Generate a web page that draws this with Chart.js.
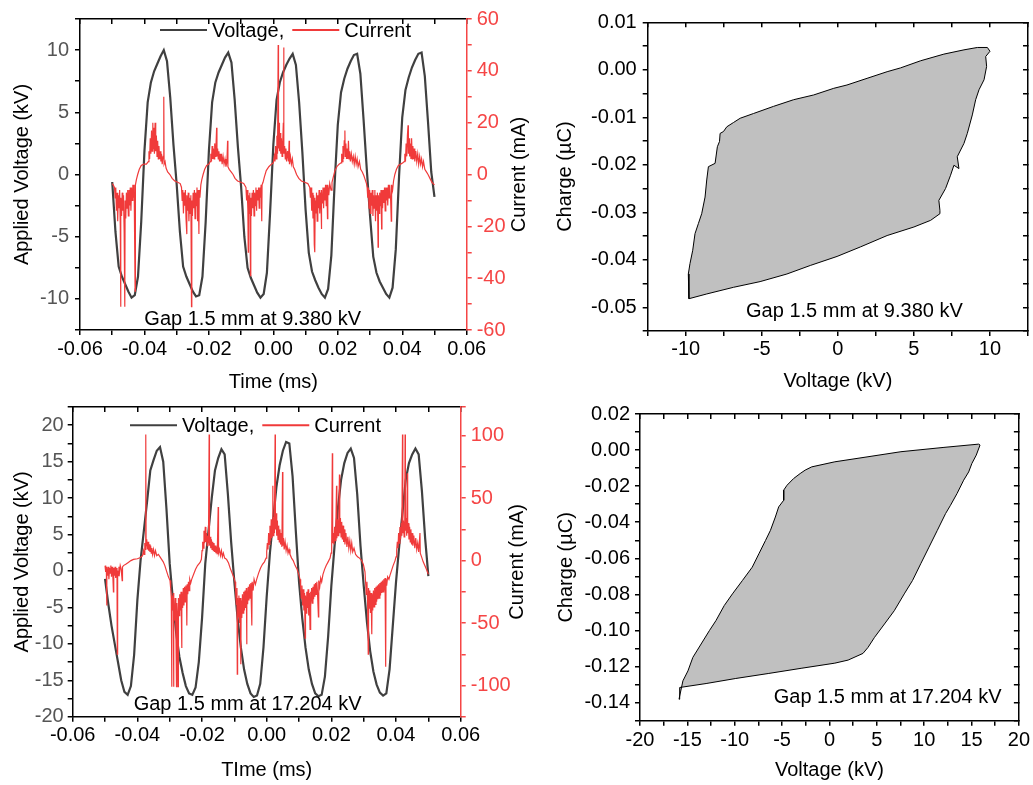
<!DOCTYPE html>
<html>
<head>
<meta charset="utf-8">
<script src="https://cdn.jsdelivr.net/npm/chart.js@4.4.1/dist/chart.umd.min.js"></script>
<style>
  body { margin: 0; background: #fff; }
  #wrap { position: relative; width: 1033px; height: 785px; }
  canvas { position: absolute; }
</style>
</head>
<body>
<div id="wrap">
  <canvas id="c1" width="540" height="396" style="left:0;top:0"></canvas>
  <canvas id="c2" width="493" height="396" style="left:540px;top:0"></canvas>
  <canvas id="c3" width="540" height="395" style="left:0;top:390px"></canvas>
  <canvas id="c4" width="493" height="395" style="left:540px;top:390px"></canvas>
</div>
<script>
// time base for the voltage traces (ms)
const timeMs = [
  -0.050,-0.049,-0.048,-0.047,-0.046,-0.045,-0.044,-0.043,-0.042,-0.041,
  -0.040,-0.039,-0.038,-0.037,-0.036,-0.035,-0.034,-0.033,-0.032,-0.031,
  -0.030,-0.029,-0.028,-0.027,-0.026,-0.025,-0.024,-0.023,-0.022,-0.021,
  -0.020,-0.019,-0.018,-0.017,-0.016,-0.015,-0.014,-0.013,-0.012,-0.011,
  -0.010,-0.009,-0.008,-0.007,-0.006,-0.005,-0.004,-0.003,-0.002,-0.001,
  0.000,0.001,0.002,0.003,0.004,0.005,0.006,0.007,0.008,0.009,
  0.010,0.011,0.012,0.013,0.014,0.015,0.016,0.017,0.018,0.019,
  0.020,0.021,0.022,0.023,0.024,0.025,0.026,0.027,0.028,0.029,
  0.030,0.031,0.032,0.033,0.034,0.035,0.036,0.037,0.038,0.039,
  0.040,0.041,0.042,0.043,0.044,0.045,0.046,0.047,0.048,0.049,
  0.050
];

// applied voltage (kV), gap 1.5 mm at 9.380 kV
const volt1 = [
  -0.6,-4.6,-7.4,-8.2,-8.8,-9.4,-9.9,-9.7,-8.2,-3.8,
  1.9,5.8,7.4,8.3,8.9,9.5,10.0,9.1,6.2,2.4,
  -0.8,-4.6,-7.4,-8.2,-8.8,-9.4,-9.8,-9.7,-8.2,-3.8,
  1.9,5.8,7.4,8.2,8.8,9.4,9.8,9.0,6.0,2.2,
  -1.0,-5.0,-7.5,-8.3,-8.9,-9.5,-9.9,-9.6,-7.9,-3.0,
  2.4,6.0,7.4,8.2,8.8,9.3,9.7,8.8,5.8,1.8,
  -2.8,-6.3,-7.8,-8.5,-9.1,-9.6,-9.9,-9.2,-6.5,-0.8,
  4.0,6.6,7.7,8.5,9.1,9.6,9.7,8.1,4.4,0.4,
  -3.3,-6.6,-7.9,-8.6,-9.1,-9.6,-9.9,-9.1,-6.0,-0.2,
  4.6,6.8,7.8,8.6,9.2,9.7,9.8,7.9,4.2,0.2,
  -1.8
];

// applied voltage (kV), gap 1.5 mm at 17.204 kV
const volt3 = [
  -1.1,-4.5,-7.5,-10.0,-12.5,-15.0,-16.6,-17.0,-15.8,-11.5,
  -4.0,1.5,5.5,9.5,13.8,15.2,16.5,17.0,15.0,8.5,
  1.0,-4.0,-8.5,-11.8,-14.0,-15.8,-16.8,-17.0,-16.0,-12.5,
  -6.5,1.0,5.5,10.0,13.8,15.5,16.7,16.0,10.5,4.0,
  -1.5,-6.5,-10.5,-13.5,-15.5,-16.8,-17.3,-17.1,-15.5,-10.5,
  -3.5,2.5,7.0,11.5,14.5,16.5,17.7,17.5,13.0,5.5,
  -1.5,-6.5,-10.5,-13.5,-15.5,-16.8,-17.2,-17.0,-14.5,-9.0,
  -2.0,3.5,8.5,12.5,14.8,16.2,16.8,15.5,10.5,3.5,
  -2.0,-7.0,-11.0,-13.8,-15.6,-16.7,-17.1,-16.8,-13.5,-7.5,
  -1.5,3.5,8.0,12.5,14.8,16.0,16.8,16.0,11.0,4.5,
  -0.7
];

// current (mA) as [time ms, value], 9.380 kV
const current1 = [
  [-0.0500,-3.5],[-0.0497,-4],[-0.0493,-5],[-0.0491,-9],[-0.0489,-5],[-0.0487,-14],[-0.0485,-7],[-0.0483,-18],[-0.0481,-8],[-0.0479,-13],
  [-0.0477,-6],[-0.0475,-20],[-0.0474,-51],[-0.0473,-9],[-0.0471,-16],[-0.0469,-7],[-0.0467,-14],[-0.0465,-8],[-0.0463,-22],[-0.0461,-51],
  [-0.0460,-10],[-0.0458,-17],[-0.0456,-7],[-0.0454,-13],[-0.0452,-6],[-0.0450,-16],[-0.0448,-6],[-0.0446,-12],[-0.0444,-5],[-0.0442,-14],
  [-0.0440,-5],[-0.0438,-10],[-0.0436,-4],[-0.0434,-9],[-0.0432,-4],[-0.0429,-45],[-0.0428,-4],[-0.0425,-2],[-0.0421,0],[-0.0416,2],
  [-0.0410,3.5],[-0.0402,4],[-0.0394,4],[-0.0388,5],[-0.0386,9],[-0.0384,6],[-0.0382,14],[-0.0380,8],[-0.0378,17],[-0.0376,9],
  [-0.0374,20],[-0.0373,10],[-0.0371,18],[-0.0369,8],[-0.0367,20],[-0.0365,9],[-0.0363,15],[-0.0361,7],[-0.0359,13],[-0.0357,6],
  [-0.0355,11],[-0.0353,6],[-0.0351,9],[-0.0349,5],[-0.0347,8],[-0.0345,4],[-0.0342,7],[-0.0340,30],[-0.0339,4],[-0.0336,5],
  [-0.0333,2.5],[-0.0328,1],[-0.0321,0],[-0.0314,-1.5],[-0.0306,-2.5],[-0.0297,-3],[-0.0289,-3.5],
  [-0.0285,-5],[-0.0283,-10],[-0.0281,-6],[-0.0279,-15],[-0.0277,-7],[-0.0275,-12],[-0.0273,-6],[-0.0271,-17],[-0.0269,-23],[-0.0268,-8],
  [-0.0266,-14],[-0.0264,-7],[-0.0262,-18],[-0.0260,-9],[-0.0258,-15],[-0.0256,-8],[-0.0254,-51],[-0.0253,-10],[-0.0251,-16],[-0.0249,-7],
  [-0.0247,-13],[-0.0245,-6],[-0.0243,-17],[-0.0241,-7],[-0.0239,-12],[-0.0237,-5],[-0.0235,-18],[-0.0233,-6],[-0.0231,-23],[-0.0230,-6],
  [-0.0228,-9],[-0.0225,-4],[-0.0222,-2],[-0.0218,0],[-0.0213,2],[-0.0207,3.5],[-0.0200,4],[-0.0196,5],[-0.0194,8],[-0.0192,5],
  [-0.0190,11],[-0.0188,6],[-0.0186,10],[-0.0184,6],[-0.0182,12],[-0.0180,7],[-0.0178,11],[-0.0176,18],[-0.0175,7],[-0.0173,10],
  [-0.0171,6],[-0.0169,9],[-0.0167,5],[-0.0165,8],[-0.0163,5],[-0.0161,8],[-0.0159,4],[-0.0156,7],[-0.0153,4],[-0.0150,6],
  [-0.0147,3],[-0.0144,5],[-0.0142,13],[-0.0141,3],[-0.0137,2],[-0.0131,1],[-0.0125,0],[-0.0119,-1.5],[-0.0111,-2.5],[-0.0101,-3],
  [-0.0092,-3.5],
  [-0.0085,-5],[-0.0083,-10],[-0.0081,-6],[-0.0079,-14],[-0.0078,-30],[-0.0077,-8],[-0.0075,-15],[-0.0073,-7],[-0.0071,-39],[-0.0070,-9],
  [-0.0068,-16],[-0.0066,-7],[-0.0064,-13],[-0.0062,-6],[-0.0060,-16],[-0.0058,-7],[-0.0056,-12],[-0.0054,-5],[-0.0052,-14],[-0.0050,-6],
  [-0.0048,-10],[-0.0046,-5],[-0.0044,-13],[-0.0042,-5],[-0.0040,-9],[-0.0038,-4],[-0.0036,-18],[-0.0035,-4],[-0.0032,-3],[-0.0028,-1],
  [-0.0022,1.5],[-0.0014,3],[-0.0006,4],[0.0000,4.5],[0.0003,7],[0.0005,5],[0.0007,11],[0.0009,6],[0.0011,15],[0.0013,8],
  [0.0015,50],[0.0016,10],[0.0018,20],[0.0019,9],[0.0021,16],[0.0023,8],[0.0025,14],[0.0027,7],[0.0029,12],[0.0031,20],
  [0.0032,49],[0.0033,8],[0.0035,11],[0.0037,6],[0.0039,10],[0.0041,5],[0.0044,9],[0.0047,5],[0.0049,13],[0.0050,4],
  [0.0053,7],[0.0056,4],[0.0059,6],[0.0062,3],[0.0066,2],[0.0072,0],[0.0079,-1.5],[0.0087,-2.5],[0.0097,-3],[0.0107,-3.5],
  [0.0113,-5],[0.0115,-9],[0.0117,-5],[0.0119,-14],[0.0121,-7],[0.0123,-17],[0.0125,-8],[0.0127,-27],[0.0128,-9],[0.0129,-30],
  [0.0130,-10],[0.0132,-15],[0.0134,-7],[0.0136,-18],[0.0138,-8],[0.0140,-13],[0.0142,-6],[0.0144,-15],[0.0146,-7],[0.0148,-12],
  [0.0149,-21],[0.0150,-6],[0.0152,-11],[0.0154,-5],[0.0156,-13],[0.0158,-5],[0.0160,-10],[0.0162,-4],[0.0164,-12],[0.0166,-4],
  [0.0168,-17],[0.0169,-4],[0.0172,-8],[0.0175,-3.5],[0.0179,-6],[0.0182,-3],[0.0186,-1],[0.0191,1.5],[0.0197,3],[0.0204,4],
  [0.0210,4.5],[0.0212,8],[0.0214,5],[0.0216,11],[0.0218,6],[0.0220,13],[0.0222,17],[0.0223,7],[0.0225,12],[0.0227,6],
  [0.0229,10],[0.0231,6],[0.0233,13],[0.0235,6],[0.0237,9],[0.0239,5],[0.0242,8],[0.0245,5],[0.0248,7],[0.0251,4],
  [0.0254,7],[0.0257,4],[0.0260,6],[0.0263,3],[0.0267,5],[0.0271,2],[0.0276,1],[0.0281,-0.5],[0.0285,-2],[0.0289,-3.5],
  [0.0291,-5],[0.0293,-9],[0.0295,-5],[0.0297,-13],[0.0299,-6],[0.0301,-15],[0.0303,-7],[0.0305,-12],[0.0307,-6],[0.0309,-16],
  [0.0311,-8],[0.0313,-13],[0.0315,-6],[0.0317,-18],[0.0319,-8],[0.0321,-14],[0.0323,-7],[0.0325,-28],[0.0326,-8],[0.0328,-15],
  [0.0330,-7],[0.0332,-12],[0.0334,-6],[0.0336,-21],[0.0337,-6],[0.0339,-13],[0.0341,-6],[0.0343,-11],[0.0345,-5],[0.0347,-14],
  [0.0349,-5],[0.0351,-10],[0.0353,-5],[0.0355,-12],[0.0357,-4],[0.0359,-9],[0.0361,-4],[0.0364,-10],[0.0366,-18],[0.0367,-4],
  [0.0370,-6],[0.0373,-2.5],[0.0377,0],[0.0382,2],[0.0388,3.5],[0.0395,4],[0.0402,4.5],[0.0406,5],[0.0408,8],[0.0410,5],
  [0.0412,12],[0.0414,7],[0.0416,15],[0.0418,19],[0.0419,8],[0.0421,14],[0.0423,7],[0.0425,12],[0.0427,6],[0.0429,14],
  [0.0431,6],[0.0433,11],[0.0435,6],[0.0437,10],[0.0439,5],[0.0442,9],[0.0445,5],[0.0448,8],[0.0451,4],[0.0454,7],
  [0.0457,4],[0.0460,6],[0.0463,3],[0.0466,5],[0.0470,2],[0.0475,1],[0.0480,0],[0.0486,-1.5],[0.0492,-3],[0.0500,-4]
];

// current (mA) as [time ms, value], 17.204 kV
const current3 = [
  [-0.0500,-4],[-0.0498,-9],[-0.0496,-5],[-0.0495,-36],[-0.0494,-6],[-0.0492,-12],[-0.0490,-5],[-0.0488,-15],[-0.0486,-6],[-0.0484,-10],
  [-0.0482,-4],[-0.0480,-13],[-0.0478,-5],[-0.0476,-11],[-0.0474,-25],[-0.0473,-6],[-0.0471,-12],[-0.0469,-5],[-0.0467,-14],[-0.0465,-6],
  [-0.0463,-10],[-0.0462,-75],[-0.0461,-8],[-0.0459,-12],[-0.0457,-5],[-0.0455,-9],[-0.0453,-4],[-0.0450,-7],[-0.0447,-16],[-0.0446,-5],
  [-0.0443,-4],[-0.0436,-3],[-0.0428,-1.5],[-0.0420,0],[-0.0412,1],[-0.0400,1.5],[-0.0390,2.5],[-0.0384,4],[-0.0381,8],[-0.0379,5],
  [-0.0377,14],[-0.0375,9],[-0.0374,101],[-0.0373,12],[-0.0371,17],[-0.0369,9],[-0.0367,15],[-0.0365,8],[-0.0363,13],[-0.0361,7],
  [-0.0359,12],[-0.0357,6],[-0.0355,10],[-0.0353,5],[-0.0350,9],[-0.0347,4],[-0.0344,8],[-0.0340,4],[-0.0335,5],[-0.0330,3],
  [-0.0325,1],[-0.0320,-1],[-0.0315,-4],[-0.0309,-9],[-0.0304,-13],[-0.0299,-16],
  [-0.0297,-22],[-0.0295,-30],[-0.0294,-101],[-0.0293,-28],[-0.0291,-40],[-0.0289,-26],[-0.0288,-101],[-0.0287,-35],[-0.0285,-48],[-0.0283,-30],
  [-0.0281,-52],[-0.0279,-101],[-0.0278,-34],[-0.0276,-45],[-0.0274,-101],[-0.0273,-30],[-0.0271,-44],[-0.0269,-27],[-0.0267,-40],[-0.0265,-25],
  [-0.0263,-70],[-0.0262,-26],[-0.0260,-38],[-0.0258,-22],[-0.0256,-36],[-0.0254,-21],[-0.0252,-33],[-0.0250,-20],[-0.0248,-30],[-0.0247,-52],
  [-0.0246,-19],[-0.0244,-27],[-0.0242,-17],[-0.0240,-24],[-0.0238,-15],[-0.0235,-18],[-0.0232,-15],[-0.0226,-11],[-0.0220,-7],[-0.0214,-4],
  [-0.0206,-1.5],[-0.0202,1],
  [-0.0200,8],[-0.0198,15],[-0.0196,10],[-0.0194,24],[-0.0192,14],[-0.0190,27],[-0.0188,15],[-0.0186,22],[-0.0184,12],[-0.0182,20],
  [-0.0180,14],[-0.0178,101],[-0.0177,12],[-0.0175,19],[-0.0173,10],[-0.0171,17],[-0.0169,9],[-0.0167,15],[-0.0165,8],[-0.0163,14],
  [-0.0161,7],[-0.0159,12],[-0.0157,6],[-0.0155,11],[-0.0153,5],[-0.0150,43],[-0.0149,6],[-0.0146,9],[-0.0143,4],[-0.0140,8],
  [-0.0137,3],[-0.0134,6],[-0.0130,2],[-0.0124,1],[-0.0118,-2],[-0.0113,-6],[-0.0107,-10],[-0.0101,-14],[-0.0098,-17],
  [-0.0096,-25],[-0.0094,-35],[-0.0092,-22],[-0.0091,-91],[-0.0090,-30],[-0.0088,-45],[-0.0086,-28],[-0.0084,-50],[-0.0082,-30],[-0.0080,-83],
  [-0.0079,-32],[-0.0077,-46],[-0.0075,-27],[-0.0073,-42],[-0.0071,-25],[-0.0069,-40],[-0.0067,-24],[-0.0065,-38],[-0.0063,-22],[-0.0062,-67],
  [-0.0061,-24],[-0.0059,-35],[-0.0057,-21],[-0.0055,-32],[-0.0053,-19],[-0.0051,-30],[-0.0049,-18],[-0.0046,-52],[-0.0045,-17],[-0.0042,-24],
  [-0.0039,-15],[-0.0035,-19],[-0.0031,-15],[-0.0025,-10],[-0.0019,-6],[-0.0013,-3],[-0.0007,-1],[-0.0002,2],
  [0.0000,7],[0.0002,14],[0.0004,9],[0.0006,22],[0.0008,13],[0.0010,28],[0.0012,16],[0.0014,33],[0.0016,18],[0.0018,30],
  [0.0019,60],[0.0020,20],[0.0022,35],[0.0024,22],[0.0026,101],[0.0027,25],[0.0029,38],[0.0031,20],[0.0033,32],[0.0035,17],
  [0.0037,28],[0.0039,15],[0.0041,25],[0.0043,13],[0.0045,22],[0.0047,11],[0.0049,71],[0.0050,12],[0.0052,18],[0.0054,9],
  [0.0057,15],[0.0060,8],[0.0063,12],[0.0066,6],[0.0069,9],[0.0072,5],[0.0077,2],[0.0082,0],[0.0088,-4],[0.0094,-7],
  [0.0099,-11],[0.0103,-15],
  [0.0105,-22],[0.0107,-30],[0.0109,-20],[0.0111,-36],[0.0113,-23],[0.0115,-40],[0.0117,-26],[0.0119,-62],[0.0120,-28],[0.0122,-42],
  [0.0124,-25],[0.0126,-38],[0.0128,-23],[0.0130,-44],[0.0132,-26],[0.0134,-55],[0.0135,-25],[0.0137,-37],[0.0139,-22],[0.0141,-34],
  [0.0143,-21],[0.0145,-31],[0.0147,-19],[0.0149,-29],[0.0151,-18],[0.0153,-27],[0.0155,-17],[0.0157,-25],[0.0160,-45],[0.0161,-16],
  [0.0164,-21],[0.0167,-14],[0.0170,-17],[0.0174,-11],[0.0179,-7],[0.0184,-4],[0.0190,-1],[0.0196,2],
  [0.0199,6],[0.0201,12],[0.0203,86],[0.0204,14],[0.0206,22],[0.0208,13],[0.0210,27],[0.0212,16],[0.0214,30],[0.0216,60],
  [0.0217,18],[0.0219,33],[0.0221,20],[0.0223,35],[0.0225,69],[0.0226,22],[0.0228,34],[0.0230,19],[0.0232,31],[0.0234,17],
  [0.0236,28],[0.0238,15],[0.0240,25],[0.0242,13],[0.0245,22],[0.0248,11],[0.0251,19],[0.0254,10],[0.0257,16],[0.0260,8],
  [0.0263,14],[0.0266,7],[0.0270,10],[0.0275,5],[0.0281,3],[0.0287,2],[0.0294,0],[0.0299,-3],[0.0304,-9],
  [0.0306,-18],[0.0308,-27],[0.0310,-17],[0.0312,-33],[0.0314,-75],[0.0315,-22],[0.0317,-38],[0.0319,-24],[0.0321,-42],[0.0323,-26],
  [0.0325,-59],[0.0326,-27],[0.0328,-40],[0.0330,-24],[0.0332,-37],[0.0334,-22],[0.0336,-35],[0.0338,-21],[0.0340,-33],[0.0342,-20],
  [0.0344,-31],[0.0346,-19],[0.0348,-30],[0.0350,-18],[0.0352,-28],[0.0354,-17],[0.0356,-26],[0.0358,-16],[0.0360,-25],[0.0362,-15],
  [0.0364,-24],[0.0366,-14],[0.0368,-85],[0.0369,-15],[0.0371,-20],[0.0374,-13],[0.0378,-15],[0.0381,-12],[0.0386,-8],[0.0391,-4],
  [0.0397,0],[0.0400,3],
  [0.0402,8],[0.0404,15],[0.0406,10],[0.0408,22],[0.0410,14],[0.0412,27],[0.0414,17],[0.0416,30],[0.0418,20],[0.0420,101],
  [0.0421,22],[0.0423,32],[0.0425,19],[0.0427,28],[0.0428,101],[0.0429,24],[0.0431,34],[0.0433,20],[0.0435,70],[0.0436,22],
  [0.0438,30],[0.0440,17],[0.0442,27],[0.0444,15],[0.0446,25],[0.0448,13],[0.0450,22],[0.0452,12],[0.0455,20],[0.0458,10],
  [0.0461,18],[0.0464,9],[0.0467,14],[0.0470,7],[0.0474,22],[0.0475,6],[0.0479,3],[0.0484,-1],[0.0489,-4],[0.0494,-7],
  [0.0500,-11]
];

// charge-voltage loops as [voltage kV, charge uC]
const loop1 = [
  [-9.79,-0.0482],[-8.62,-0.0472],[-6.86,-0.0458],[-5.11,-0.0446],[-3.35,-0.0430],[-1.81,-0.0412],[-0.05,-0.0393],[1.48,-0.0373],
  [3.24,-0.0349],[5.00,-0.0331],[6.10,-0.0317],[6.71,-0.0303],[6.71,-0.0296],[6.64,-0.0275],[7.08,-0.0250],[7.41,-0.0222],
  [7.63,-0.0201],[7.96,-0.0208],[7.85,-0.0183],[8.29,-0.0155],[8.51,-0.0134],[8.84,-0.0095],[9.06,-0.0063],[9.28,-0.0042],
  [9.61,-0.0021],[9.78,0.0007],[9.72,0.0028],[10.00,0.0039],[9.83,0.0047],[9.17,0.0047],[8.29,0.0042],[6.97,0.0033],
  [5.44,0.0019],[4.12,0.0004],[3.24,-0.0004],[1.92,-0.0018],[0.60,-0.0032],[-0.27,-0.0039],[-1.59,-0.0053],[-2.91,-0.0063],
  [-4.23,-0.0077],[-5.54,-0.0092],[-6.42,-0.0102],[-6.86,-0.0111],[-7.30,-0.0120],[-7.52,-0.0130],[-7.74,-0.0134],[-7.78,-0.0151],
  [-7.92,-0.0162],[-8.07,-0.0197],[-8.51,-0.0204],[-8.62,-0.0232],[-8.73,-0.0268],[-8.95,-0.0303],[-9.17,-0.0324],[-9.39,-0.0345],
  [-9.54,-0.0380],[-9.72,-0.0408],[-9.83,-0.0430],[-9.79,-0.0458],[-9.79,-0.0482]
];
const loop2 = [
  [-15.81,-0.1316],[-13.02,-0.1294],[-9.89,-0.1266],[-6.40,-0.1238],[-2.91,-0.1209],[0.57,-0.1181],[1.97,-0.1164],[3.54,-0.1127],
  [4.07,-0.1094],[4.76,-0.1038],[5.81,-0.0964],[6.85,-0.0890],[7.90,-0.0797],[8.77,-0.0723],[9.64,-0.0630],[10.51,-0.0538],
  [11.39,-0.0445],[12.26,-0.0352],[12.78,-0.0306],[13.47,-0.0241],[14.17,-0.0167],[14.70,-0.0121],[15.04,-0.0074],[15.50,-0.0028],
  [15.90,0.0028],[15.75,0.0033],[12.09,0.0015],[7.55,-0.0009],[4.07,-0.0037],[0.57,-0.0065],[-1.87,-0.0093],[-2.56,-0.0111],
  [-3.09,-0.0130],[-3.79,-0.0158],[-4.48,-0.0195],[-4.83,-0.0222],[-4.83,-0.0278],[-5.36,-0.0315],[-5.71,-0.0371],[-6.23,-0.0445],
  [-6.75,-0.0501],[-7.45,-0.0575],[-8.15,-0.0649],[-9.19,-0.0723],[-10.24,-0.0797],[-11.11,-0.0862],[-11.98,-0.0945],[-12.68,-0.1001],
  [-13.55,-0.1075],[-14.42,-0.1149],[-14.94,-0.1224],[-15.47,-0.1279],[-15.88,-0.1381],[-15.81,-0.1316]
];

const VCOL = '#404040';
const ICOL = '#f03a3a';
const RED = '#f54545';

Chart.defaults.font.family = '"Liberation Sans", Arial, sans-serif';
Chart.defaults.font.size = 20;

function every(step, digits) {
  return (v) => {
    const r = v / step;
    if (Math.abs(r - Math.round(r)) > 1e-6) return '';
    return (Math.abs(v) < 1e-9 ? 0 : v).toFixed(digits);
  };
}

// one axis, with its box size pinned so the plot area lands where the reference has it
function scale(position, min, max, step, size, e) {
  e = e || {};
  const color = e.color || '#000';
  return {
    type: 'linear', position, min, max,
    afterFit: (s) => { if (s.isHorizontal()) s.height = size; else s.width = size; },
    border: { display: true, color, width: 1.5 },
    grid: { drawOnChartArea: false, drawTicks: true, tickLength: e.inward ? -5 : 5, color, lineWidth: 1.5 },
    ticks: {
      display: !!e.label, stepSize: step, autoSkip: false, maxRotation: 0, minRotation: 0,
      padding: e.pad || 3, color: e.tickColor || color,
      callback: e.label || (() => '')
    },
    title: e.title
      ? { display: true, text: e.title, color: '#000', padding: e.titlePad }
      : { display: false }
  };
}

const decor = {
  id: 'decor',
  afterDraw(chart, args, o) {
    const { ctx, chartArea: a, scales } = chart;
    ctx.save();
    ctx.font = '20px "Liberation Sans", Arial, sans-serif';
    ctx.fillStyle = '#000';
    if (o.note) {
      ctx.textAlign = 'center';
      ctx.textBaseline = 'alphabetic';
      ctx.fillText(o.note.text, scales.x.getPixelForValue(o.note.x), scales.y.getPixelForValue(o.note.y));
    }
    if (o.legend) {
      let x = a.left + o.legend.dx;
      const y = a.top + o.legend.dy;
      ctx.textAlign = 'left';
      ctx.textBaseline = 'alphabetic';
      chart.data.datasets.forEach((ds) => {
        ctx.strokeStyle = ds.borderColor;
        ctx.lineWidth = 2;
        ctx.beginPath();
        ctx.moveTo(x, y);
        ctx.lineTo(x + 47, y);
        ctx.stroke();
        ctx.fillStyle = '#000';
        ctx.fillText(ds.label, x + 52, y + 7);
        x += 52 + ctx.measureText(ds.label).width + 8;
      });
    }
    if (o.rightTitle) {
      ctx.translate(a.right + o.rightTitle.dx, (a.top + a.bottom) / 2);
      ctx.rotate(-Math.PI / 2);
      ctx.textAlign = 'center';
      ctx.textBaseline = 'middle';
      ctx.fillStyle = '#000';
      ctx.fillText(o.rightTitle.text, 0, 0);
    }
    ctx.restore();
  }
};

function options(scales, deco) {
  return {
    responsive: false,
    animation: false,
    devicePixelRatio: 1,
    events: [],
    layout: { padding: 0, autoPadding: false },
    elements: { point: { radius: 0 }, line: { tension: 0 } },
    datasets: { scatter: { showLine: true } },
    plugins: { legend: { display: false }, tooltip: { enabled: false }, decor: deco },
    scales
  };
}

const pts = (arr) => arr.map(([a, b]) => ({ x: a, y: b }));

new Chart(document.getElementById('c1'), {
  type: 'scatter',
  data: { datasets: [
    { label: 'Voltage,', data: timeMs.map((t, i) => ({ x: t, y: volt1[i] })), yAxisID: 'y', borderColor: VCOL, borderWidth: 2.2, order: 2 },
    { label: 'Current', data: pts(current1), yAxisID: 'yR', borderColor: ICOL, borderWidth: 1.2, order: 1 }
  ] },
  options: options({
    x: scale('bottom', -0.06, 0.06, 0.01, 66, { label: every(0.02, 2), pad: 2, title: 'Time (ms)', titlePad: { top: 0, bottom: 2 } }),
    x2: scale('top', -0.06, 0.06, 0.01, 19, { inward: true }),
    y: scale('left', -12.5, 12.5, 2.5, 80, { label: every(5, 0), pad: 6, tickColor: '#555', title: 'Applied Voltage (kV)', titlePad: { top: 10, bottom: 0 } }),
    yR: scale('right', -60, 60, 10, 73.3, { label: every(20, 0), pad: 5, color: RED })
  }, {
    note: { text: 'Gap 1.5 mm at 9.380 kV', x: -0.0064, y: -12.1 },
    legend: { dx: 80, dy: 11 },
    rightTitle: { text: 'Current (mA)', dx: 53 }
  }),
  plugins: [decor]
});

new Chart(document.getElementById('c2'), {
  type: 'scatter',
  data: { datasets: [
    { label: 'Q-V', data: pts(loop1), borderColor: '#000', borderWidth: 1, backgroundColor: '#c0c0c0', fill: 'shape' }
  ] },
  options: options({
    x: scale('bottom', -12.5, 12.5, 2.5, 65, { label: every(5, 0), pad: 1, title: 'Voltage (kV)', titlePad: { top: 0, bottom: 3 } }),
    x2: scale('top', -12.5, 12.5, 2.5, 22.3, { inward: true }),
    y: scale('left', -0.055, 0.01, 0.005, 107.7, { label: every(0.01, 2), pad: 6, title: 'Charge (\u00b5C)', titlePad: { top: 13, bottom: 0 } }),
    y2: scale('right', -0.055, 0.01, 0.005, 5, { inward: true })
  }, {
    note: { text: 'Gap 1.5 mm at 9.380 kV', x: 1.09, y: -0.0521 }
  }),
  plugins: [decor]
});

new Chart(document.getElementById('c3'), {
  type: 'scatter',
  data: { datasets: [
    { label: 'Voltage,', data: timeMs.map((t, i) => ({ x: t, y: volt3[i] })), yAxisID: 'y', borderColor: VCOL, borderWidth: 2.2, order: 2 },
    { label: 'Current', data: pts(current3), yAxisID: 'yR', borderColor: ICOL, borderWidth: 1.2, order: 1 }
  ] },
  options: options({
    x: scale('bottom', -0.06, 0.06, 0.01, 68.3, { label: every(0.02, 2), pad: 2, title: 'TIme (ms)', titlePad: { top: 0, bottom: 3 } }),
    x2: scale('top', -0.06, 0.06, 0.01, 11, { inward: true }),
    y: scale('left', -20, 22.5, 2.5, 72.7, { label: every(5, 0), pad: 4, tickColor: '#555', title: 'Applied Voltage (kV)', titlePad: { top: 10, bottom: 0 } }),
    yR: scale('right', -125, 123, 25, 79.3, { label: every(50, 0), pad: 5, color: RED })
  }, {
    note: { text: 'Gap 1.5 mm at 17.204 kV', x: -0.0059, y: -19.1 },
    legend: { dx: 57.3, dy: 18.3 },
    rightTitle: { text: 'Current (mA)', dx: 57 }
  }),
  plugins: [decor]
});

new Chart(document.getElementById('c4'), {
  type: 'scatter',
  data: { datasets: [
    { label: 'Q-V', data: pts(loop2), borderColor: '#000', borderWidth: 1, backgroundColor: '#c0c0c0', fill: 'shape' }
  ] },
  options: options({
    x: scale('bottom', -20, 20, 2.5, 64.3, { label: every(5, 0), pad: 0, title: 'Voltage (kV)', titlePad: { top: 0, bottom: 3 } }),
    x2: scale('top', -20, 20, 2.5, 24, { inward: true }),
    y: scale('left', -0.15, 0.02, 0.01, 100, { label: every(0.02, 2), pad: 5, title: 'Charge (\u00b5C)', titlePad: { top: 14.5, bottom: 0 } }),
    y2: scale('right', -0.15, 0.02, 0.01, 10.7, { inward: true })
  }, {
    note: { text: 'Gap 1.5 mm at 17.204 kV', x: 6.15, y: -0.14 }
  }),
  plugins: [decor]
});
</script>
</body>
</html>
